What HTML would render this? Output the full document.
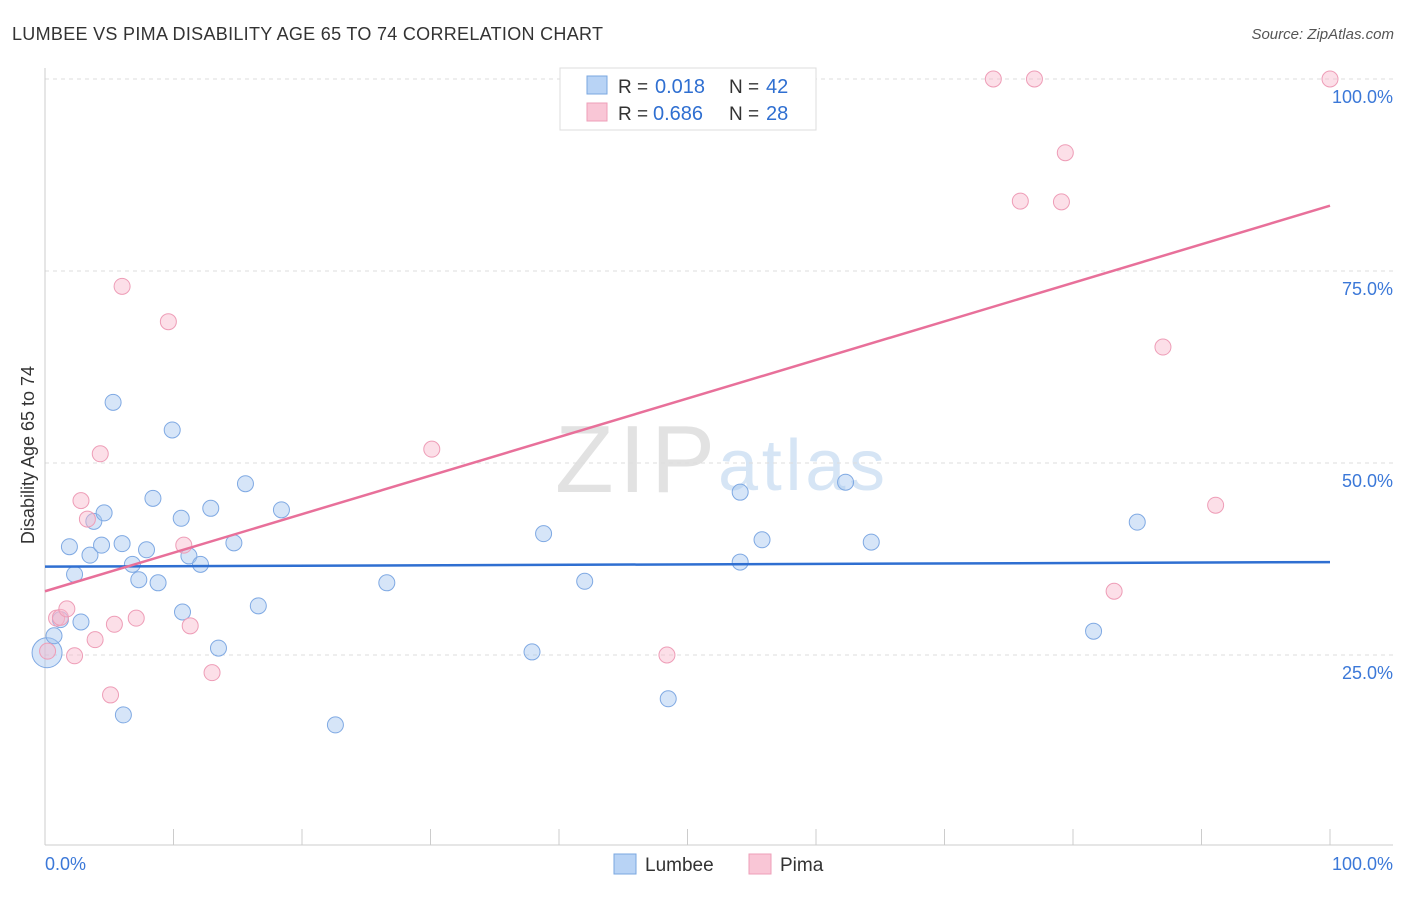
<!DOCTYPE html>
<html><head><meta charset="utf-8"><style>
body{margin:0;background:#fff;font-family:"Liberation Sans",sans-serif}
svg text{font-family:"Liberation Sans",sans-serif}
</style></head><body>
<svg id="c" width="1406" height="892">
<text x="12" y="40" font-size="18" fill="#333" textLength="591">LUMBEE VS PIMA DISABILITY AGE 65 TO 74 CORRELATION CHART</text>
<text x="1394" y="39" font-size="15" fill="#555" font-style="italic" text-anchor="end">Source: ZipAtlas.com</text>
<text x="555" y="492" font-size="96" fill="#e2e2e2" font-family="Liberation Serif" textLength="160">ZIP</text>
<text x="718" y="490" font-size="72" fill="#d6e5f5" textLength="167">atlas</text>
<text transform="translate(34,455) rotate(-90)" font-size="18" fill="#333" text-anchor="middle">Disability Age 65 to 74</text>
<g id="grid"></g><g id="marks"></g>
<g>
<rect x="560" y="68" width="256" height="62" fill="#fff" stroke="#ddd"/>
<rect x="587" y="76" width="20" height="18" fill="#b8d3f5" stroke="#7aa7e0"/>
<rect x="587" y="103" width="20" height="18" fill="#f9c6d6" stroke="#ee9fb8"/>
<text x="618" y="93" font-size="19" fill="#333">R =</text><text x="655" y="93" font-size="20" fill="#2f6fd1">0.018</text>
<text x="729" y="93" font-size="19" fill="#333">N =</text><text x="766" y="93" font-size="20" fill="#2f6fd1">42</text>
<text x="618" y="120" font-size="19" fill="#333">R =</text><text x="653" y="120" font-size="20" fill="#2f6fd1">0.686</text>
<text x="729" y="120" font-size="19" fill="#333">N =</text><text x="766" y="120" font-size="20" fill="#2f6fd1">28</text>
</g>
<g>
<rect x="614" y="854" width="22" height="20" fill="#b8d3f5" stroke="#7aa7e0"/>
<text x="645" y="871" font-size="19" fill="#333">Lumbee</text>
<rect x="749" y="854" width="22" height="20" fill="#f9c6d6" stroke="#ee9fb8"/>
<text x="780" y="871" font-size="19" fill="#333">Pima</text>
</g>
</svg>
<script>
const yTicks=[25,50,75,100];
const lumbeeX=[0.16,0.7,1.2,1.9,2.3,2.8,3.5,3.8,4.4,4.6,5.3,6.0,6.1,6.8,7.3,7.9,8.4,8.8,9.9,10.6,10.7,11.2,12.1,12.9,13.5,14.7,15.6,16.6,18.4,22.6,26.6,37.9,38.8,42.0,48.5,54.1,54.1,55.8,62.3,64.3,81.6,85.0];
const lumbeeY=[25.3,27.5,29.6,39.1,35.5,29.3,38.0,42.4,39.3,43.5,57.9,39.5,17.2,36.8,34.8,38.7,45.4,34.4,54.3,42.8,30.6,37.9,36.8,44.1,25.9,39.6,47.3,31.4,43.9,15.9,34.4,25.4,40.8,34.6,19.3,46.2,37.1,40.0,47.5,39.7,28.1,42.3];
const pimaX=[0.2,0.9,1.2,1.7,2.3,2.8,3.3,3.9,4.3,5.1,5.4,6.0,7.1,9.6,10.8,11.3,13.0,30.1,48.4,73.8,75.9,77.0,79.1,79.4,83.2,87.0,91.1,100];
const pimaY=[25.5,29.8,29.9,31.0,24.9,45.1,42.7,27.0,51.2,19.8,29.0,73.0,29.8,68.4,39.3,28.8,22.7,51.8,25.0,100,84.1,100,84.0,90.4,33.3,65.1,44.5,100];
const lumbeeTrend=[36.5,37.1];
const pimaTrend=[33.3,83.5];
const NS="http://www.w3.org/2000/svg";
const sx=v=>45+v*12.85, sy=v=>847-v*7.68;
function mk(t,a,p){const e=document.createElementNS(NS,t);for(const k in a)e.setAttribute(k,a[k]);p.appendChild(e);return e;}
const g=document.getElementById('grid'), m=document.getElementById('marks');
yTicks.forEach(t=>{
 const l=mk('line',{x1:45,x2:1393,y1:sy(t),y2:sy(t),stroke:'#ddd','stroke-dasharray':'4,4'},g);
 
 
 const tx=mk('text',{x:1393,y:sy(t)+24,'font-size':18,fill:'#3b78d8','text-anchor':'end'},g);
 tx.textContent=t.toFixed(1)+'%';
 
 
});
const ax=mk('line',{x1:45,x2:45,y1:68,y2:845,stroke:'#ccc'},g);


const bx=mk('line',{x1:45,x2:1393,y1:845,y2:845,stroke:'#ccc'},g);


for(let i=1;i<=10;i++){const t=mk('line',{x1:sx(i*10),x2:sx(i*10),y1:829,y2:845,stroke:'#ccc'},g);
 
 }
[[0,'0.0%','start',45],[100,'100.0%','end',1393]].forEach(d=>{const t=mk('text',{x:d[3],y:870,'font-size':18,fill:'#3b78d8','text-anchor':d[2]},g);t.textContent=d[1];
 
 });
function pts(X,Y,fill,stroke,name){X.forEach((x,i)=>{const c=mk('circle',{cx:sx(x),cy:sy(Y[i]),r:(i==0&&name=='lumbee')?15:8,fill:fill,stroke:stroke,'stroke-width':1},m);
 
 });}
pts(lumbeeX,lumbeeY,'rgba(164,198,240,0.45)','#7fa9e3','lumbee');
pts(pimaX,pimaY,'rgba(248,184,204,0.45)','#ee9db7','pima');
const l1=mk('line',{x1:sx(0),x2:sx(100),y1:sy(lumbeeTrend[0]),y2:sy(lumbeeTrend[1]),stroke:'#2f6fd1','stroke-width':2.5},m);


const l2=mk('line',{x1:sx(0),x2:sx(100),y1:sy(pimaTrend[0]),y2:sy(pimaTrend[1]),stroke:'#e8709a','stroke-width':2.5},m);


</script>
</body></html>
